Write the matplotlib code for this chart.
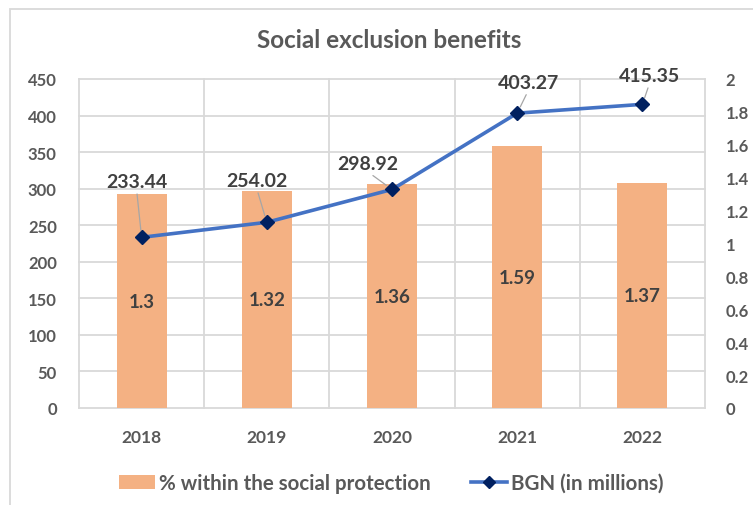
import numpy as np
import matplotlib
matplotlib.use("Agg")
import matplotlib.pyplot as plt
from matplotlib.patches import Patch, Rectangle
from matplotlib.lines import Line2D

plt.rcParams['font.family'] = ['Lato', 'DejaVu Sans']

years = ["2018", "2019", "2020", "2021", "2022"]
pct_values = [1.3, 1.32, 1.36, 1.59, 1.37]          # % within the social protection (right axis)
bgn_values = [233.44, 254.02, 298.92, 403.27, 415.35]  # BGN (in millions) (left axis)
left_ticks = [0, 50, 100, 150, 200, 250, 300, 350, 400, 450]
right_ticks = [0, 0.2, 0.4, 0.6, 0.8, 1, 1.2, 1.4, 1.6, 1.8, 2]
right_tick_labels = ["0", "0.2", "0.4", "0.6", "0.8", "1", "1.2", "1.4", "1.6", "1.8", "2"]

BAR_C = "#F4B183"
LINE_C = "#4472C4"
MARK_C = "#002060"
GRID_C = "#D9D9D9"
TXT_C = "#595959"
LBL_C = "#404040"

fig = plt.figure(figsize=(7.53, 5.06), dpi=100)
pos = [79/753, 1-409/506, (705-79)/753, (409-80)/506]

x = np.arange(len(years))
xlim = (-0.5, len(years)-0.5)

# grid axes (bottom)
axg = fig.add_axes(pos)
axg.set_xlim(*xlim)
axg.set_ylim(0, 450)
for t in left_ticks:
    axg.axhline(t, color=GRID_C, lw=1.3, clip_on=False, zorder=0)
for b in np.arange(-0.5, len(years), 1.0):
    axg.axvline(b, color=GRID_C, lw=1.3, clip_on=False, zorder=0)
axg.set_xticks([]); axg.set_yticks([])
for s in axg.spines.values():
    s.set_visible(False)

# bar axes (right scale)
axb = fig.add_axes(pos)
axb.patch.set_visible(False)
axb.bar(x, pct_values, width=0.4, color=BAR_C, zorder=2)
axb.set_xlim(*xlim)
axb.set_ylim(0, 2)
axb.yaxis.tick_right()
axb.set_yticks(right_ticks)
axb.set_yticklabels(right_tick_labels)
axb.tick_params(axis='y', length=0, pad=15, labelsize=12, labelcolor=TXT_C)
for lab in axb.get_yticklabels():
    lab.set_fontweight('bold')
axb.set_xticks(x)
axb.set_xticklabels(years)
axb.tick_params(axis='x', length=0, pad=15, labelsize=12.5, labelcolor=TXT_C)
for lab in axb.get_xticklabels():
    lab.set_fontweight('bold')
for s in axb.spines.values():
    s.set_visible(False)
for xi, v in zip(x, pct_values):
    axb.text(xi, v/2, f"{v:g}", ha='center', va='center', fontsize=13.5,
             fontweight='bold', color=LBL_C)

# line axes (left scale, top)
axl = fig.add_axes(pos)
axl.patch.set_visible(False)
axl.set_xlim(*xlim)
axl.set_ylim(0, 450)
axl.set_yticks(left_ticks)
axl.tick_params(axis='y', length=0, pad=16, labelsize=12, labelcolor=TXT_C)
for lab in axl.get_yticklabels():
    lab.set_fontweight('bold')
axl.set_xticks([])
for s in axl.spines.values():
    s.set_visible(False)

axl.plot(x, bgn_values, color=LINE_C, lw=2.6, solid_joinstyle='round',
         solid_capstyle='round', zorder=3)
axl.plot(x, bgn_values, linestyle='none', marker='D', markersize=7.5,
         markerfacecolor=MARK_C, markeredgecolor=MARK_C, zorder=4)

offsets_px = [(-5, 56), (-10, 42), (-24, 26), (11, 31), (7, 29)]
for xi, v, (dx, dy) in zip(x, bgn_values, offsets_px):
    axl.annotate(f"{v:.2f}", xy=(xi, v), xytext=(dx*0.72, dy*0.72),
                 textcoords='offset points', ha='center', va='center',
                 fontsize=14, fontweight='bold', color=LBL_C,
                 arrowprops=dict(arrowstyle='-', color='#A6A6A6', lw=0.9,
                                 shrinkA=1, shrinkB=5, relpos=(0.5, 0)))

# title
fig.text(389/753, 1-40/506, "Social exclusion benefits", ha='center', va='center',
         fontsize=17.5, fontweight='bold', color=TXT_C)

# legend
handles = [Patch(facecolor=BAR_C, edgecolor='none'),
           Line2D([0], [0], color=LINE_C, lw=2.6, marker='D', markersize=6,
                  markerfacecolor=MARK_C, markeredgecolor=MARK_C)]
leg = fig.legend(handles, ["% within the social protection", "BGN (in millions)"],
                 loc='center', bbox_to_anchor=(391/753, 1-484/506), ncol=2,
                 frameon=False, handlelength=1.75, handleheight=0.7,
                 handletextpad=0.2, columnspacing=1.95,
                 prop={'size': 14.8, 'weight': 'bold'})
for t in leg.get_texts():
    t.set_color(TXT_C)

# chart border (cropped)
fig.patches.append(Rectangle((10/753, -0.2), 1.5, 1-10/506+0.2, transform=fig.transFigure,
                             fill=False, edgecolor=GRID_C, lw=1.3))

fig.savefig("out.png", dpi=100)
